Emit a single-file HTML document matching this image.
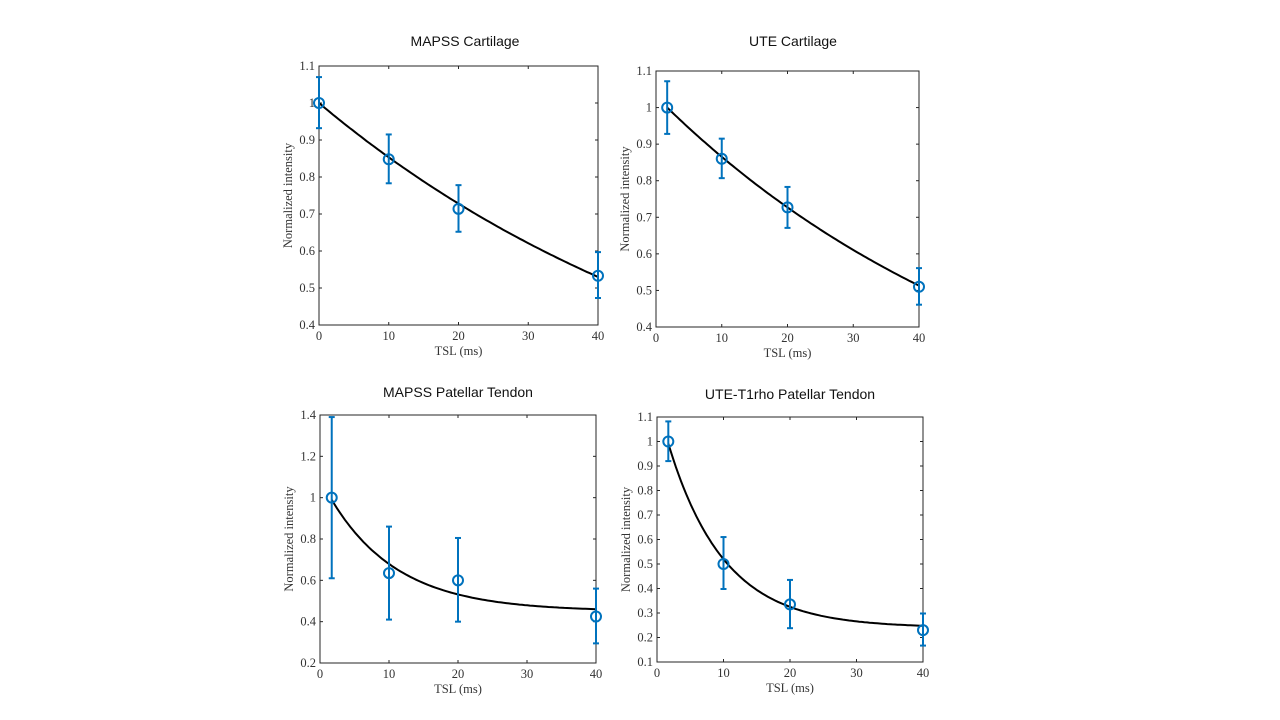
<!DOCTYPE html>
<html><head><meta charset="utf-8"><style>
body{margin:0;background:#fff;width:1280px;height:720px;overflow:hidden}
svg{display:block}
.tick{font-family:"Liberation Serif",serif;font-size:12.5px;fill:#333}
.title{font-family:"Liberation Sans",sans-serif;font-size:14px;fill:#111}
</style></head><body>
<svg id="fig" width="1280" height="720"></svg>
<script>
// Panel data
const titles = ["MAPSS  Cartilage","UTE Cartilage","MAPSS  Patellar Tendon","UTE-T1rho  Patellar Tendon"];
const xTicks = [0,10,20,30,40];
const yTicksA = [0.4,0.5,0.6,0.7,0.8,0.9,1,1.1];
const yTicksC = [0.2,0.4,0.6,0.8,1,1.2,1.4];
const yTicksD = [0.1,0.2,0.3,0.4,0.5,0.6,0.7,0.8,0.9,1,1.1];
const xA = [0,10,20,40];
const xB = [1.7,10,20,40];
const yA = [1.0,0.848,0.714,0.533], loA=[0.932,0.783,0.652,0.473], hiA=[1.07,0.915,0.778,0.597];
const yB = [1.0,0.86,0.727,0.51], loB=[0.928,0.807,0.671,0.461], hiB=[1.072,0.915,0.783,0.561];
const yC = [1.0,0.635,0.6,0.425], loC=[0.61,0.41,0.4,0.295], hiC=[1.39,0.86,0.805,0.56];
const yD = [1.0,0.5,0.335,0.23], loD=[0.92,0.398,0.238,0.167], hiD=[1.082,0.61,0.435,0.298];
// fit params: [offset, amplitude, T, xStart]
const fitA = [0,1.0,63,0];
const fitB = [0,1.03,57.4,1.7];
const fitC = [0.45,0.643,9.7,1.7];
const fitD = [0.24,0.92,8.4,1.7];

const panels = [
 {t:titles[0],box:[319,66,598,325],ymin:0.4,ymax:1.1,yt:yTicksA,x:xA,y:yA,lo:loA,hi:hiA,fit:fitA,tx:465,ty:46,name:'mapss-cartilage'},
 {t:titles[1],box:[656,71,919,327],ymin:0.4,ymax:1.1,yt:yTicksA,x:xB,y:yB,lo:loB,hi:hiB,fit:fitB,tx:793,ty:46,name:'ute-cartilage'},
 {t:titles[2],box:[320,415,596,663],ymin:0.2,ymax:1.4,yt:yTicksC,x:xB,y:yC,lo:loC,hi:hiC,fit:fitC,tx:458,ty:397,name:'mapss-tendon'},
 {t:titles[3],box:[657,417,923,662],ymin:0.1,ymax:1.1,yt:yTicksD,x:xB,y:yD,lo:loD,hi:hiD,fit:fitD,tx:790,ty:399,name:'ute-tendon'}
];
const NS='http://www.w3.org/2000/svg';
const svg=document.getElementById('fig');
function mk(tag,attrs,parent){const e=document.createElementNS(NS,tag);for(const k in attrs)e.setAttribute(k,attrs[k]);(parent||svg).appendChild(e);return e;}
panels.forEach(p=>{
  const [x0,y0,x1,y1]=p.box;
  const sx=v=>x0+(v-0)/40*(x1-x0);
  const sy=v=>y1-(v-p.ymin)/(p.ymax-p.ymin)*(y1-y0);
  const g=mk('g',{});
  
  
  const tt=mk('text',{x:p.tx,y:p.ty,'text-anchor':'middle',class:'title'},g);tt.textContent=p.t;
  
  
  const r=mk('rect',{x:x0,y:y0,width:x1-x0,height:y1-y0,fill:'#fff',stroke:'#262626','stroke-width':1},g);
  
  
  xTicks.forEach(v=>{const X=sx(v);
    mk('line',{x1:X,x2:X,y1:y1,y2:y1-3,stroke:'#262626'},g);mk('line',{x1:X,x2:X,y1:y0,y2:y0+3,stroke:'#262626'},g);
    const t=mk('text',{x:X,y:y1+15,'text-anchor':'middle',class:'tick'},g);t.textContent=v;
    
    });
  p.yt.forEach(v=>{const Y=sy(v);
    mk('line',{x1:x0,x2:x0+3,y1:Y,y2:Y,stroke:'#262626'},g);mk('line',{x1:x1,x2:x1-3,y1:Y,y2:Y,stroke:'#262626'},g);
    const t=mk('text',{x:x0-4,y:Y+4,'text-anchor':'end',class:'tick'},g);t.textContent=String(v);
    
    });
  const xl=mk('text',{x:(x0+x1)/2,y:y1+30,'text-anchor':'middle',class:'tick'},g);xl.textContent='TSL (ms)';
  
  
  const yc=(y0+y1)/2;
  const yl=mk('text',{x:x0-27,y:yc,'text-anchor':'middle',class:'tick',transform:`rotate(-90 ${x0-27} ${yc})`},g);yl.textContent='Normalized intensity';
  
  
  // fit curve
  const [c,a,T,xs]=p.fit;let d='';
  for(let i=0;i<=100;i++){const xv=xs+(40-xs)*i/100;const yv=c+a*Math.exp(-xv/T);d+=(i?'L':'M')+sx(xv).toFixed(1)+','+sy(yv).toFixed(1);}
  const fl=mk('path',{d:d,fill:'none',stroke:'#000','stroke-width':2},g);
  
  
  p.x.forEach((xv,i)=>{const X=sx(xv);
    const eg=mk('g',{stroke:'#0072BD','stroke-width':2,fill:'none'},g);
    
    
    mk('line',{x1:X,x2:X,y1:sy(p.lo[i]),y2:sy(p.hi[i])},eg);
    mk('line',{x1:X-3,x2:X+3,y1:sy(p.lo[i]),y2:sy(p.lo[i])},eg);
    mk('line',{x1:X-3,x2:X+3,y1:sy(p.hi[i]),y2:sy(p.hi[i])},eg);
    mk('circle',{cx:X,cy:sy(p.y[i]),r:5},eg);});
});
</script>
</body></html>
